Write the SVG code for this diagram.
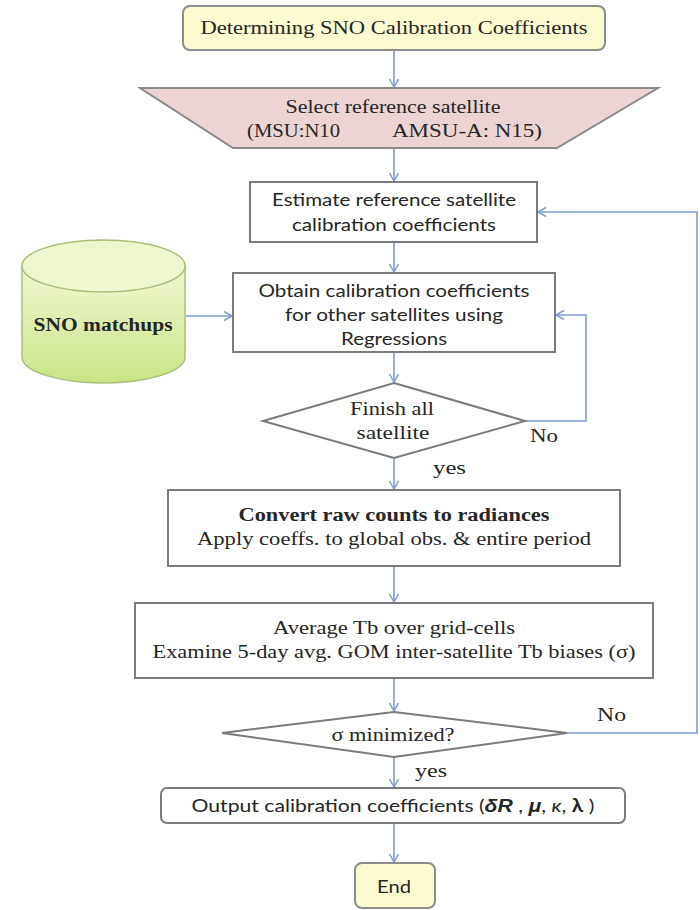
<svg xmlns="http://www.w3.org/2000/svg" width="700" height="910" viewBox="0 0 700 910">
<defs>
<marker id="arr" markerWidth="12" markerHeight="12" refX="9" refY="5" orient="auto" markerUnits="userSpaceOnUse">
<polyline points="1,0.5 9,5 1,9.5" fill="none" stroke="#7f9ccf" stroke-width="1.5"/>
</marker>
<linearGradient id="cyl" x1="0" y1="0" x2="0" y2="1">
<stop offset="0" stop-color="#f1f8d2"/>
<stop offset="1" stop-color="#c9e486"/>
</linearGradient>
<style>
.box{fill:#ffffff;stroke:#7b7b7b;stroke-width:2}
.yel{fill:#fbfbcf;stroke:#8c8c8c;stroke-width:2}
.conn{fill:none;stroke:#7f9ccf;stroke-width:1.6}
.ser{font-family:"Liberation Serif","Times New Roman",serif;font-size:18px;fill:#262626}
.san{font-family:Lato,"Liberation Sans",Arial,sans-serif;font-size:18px;fill:#262626}
.b{font-weight:bold}
</style>
</defs>
<rect width="700" height="910" fill="#ffffff"/>

<g id="connectors">
<line class="conn" x1="394" y1="50" x2="394" y2="87" marker-end="url(#arr)"/>
<line class="conn" x1="394" y1="148" x2="394" y2="181" marker-end="url(#arr)"/>
<line class="conn" x1="394" y1="242" x2="394" y2="272" marker-end="url(#arr)"/>
<line class="conn" x1="186" y1="316" x2="232" y2="316" marker-end="url(#arr)"/>
<line class="conn" x1="394" y1="352" x2="394" y2="382" marker-end="url(#arr)"/>
<polyline class="conn" points="525,421 586,421 586,315 556,315" marker-end="url(#arr)"/>
<line class="conn" x1="394" y1="458" x2="394" y2="489" marker-end="url(#arr)"/>
<line class="conn" x1="394" y1="566" x2="394" y2="602" marker-end="url(#arr)"/>
<line class="conn" x1="394" y1="678" x2="394" y2="711" marker-end="url(#arr)"/>
<polyline class="conn" points="567,733 697,733 697,212 538,212" marker-end="url(#arr)"/>
<line class="conn" x1="394" y1="757" x2="394" y2="787" marker-end="url(#arr)"/>
<line class="conn" x1="394" y1="823" x2="394" y2="862" marker-end="url(#arr)"/>
<text class="ser" x="530" y="442" textLength="28" lengthAdjust="spacingAndGlyphs">No</text>
<text class="ser" x="433" y="474" textLength="33" lengthAdjust="spacingAndGlyphs">yes</text>
<text class="ser" x="597" y="721" textLength="29" lengthAdjust="spacingAndGlyphs">No</text>
<text class="ser" x="415" y="777" textLength="32" lengthAdjust="spacingAndGlyphs">yes</text>
</g>

<g id="start">
<rect class="yel" x="183" y="6" width="422" height="44" rx="7"/>
<text class="ser" x="394" y="34" text-anchor="middle" textLength="387" lengthAdjust="spacingAndGlyphs">Determining SNO Calibration Coefficients</text>
</g>

<g id="select">
<polygon points="140,88 658,88 557,148 233,148" fill="#ebd4d3" stroke="#8a8a8a" stroke-width="2"/>
<text class="ser" x="393" y="113" text-anchor="middle" textLength="215" lengthAdjust="spacingAndGlyphs">Select reference satellite</text>
<text class="ser" x="247" y="137" textLength="93" lengthAdjust="spacingAndGlyphs">(MSU:N10</text>
<text class="ser" x="392" y="137" textLength="150" lengthAdjust="spacingAndGlyphs">AMSU-A: N15)</text>
</g>

<g id="estimate">
<rect class="box" x="250" y="182" width="287" height="60"/>
<text class="san" x="394" y="206" text-anchor="middle" textLength="244" lengthAdjust="spacingAndGlyphs">Estimate reference satellite</text>
<text class="san" x="394" y="231" text-anchor="middle" textLength="204" lengthAdjust="spacingAndGlyphs">calibration coefficients</text>
</g>

<g id="sno">
<path d="M22,266 L22,357 A81.5,26 0 0 0 185,357 L185,266" fill="url(#cyl)" stroke="#a9bf78" stroke-width="1.5"/>
<ellipse cx="103.5" cy="266" rx="81.5" ry="26" fill="#eef7cf" stroke="#a9bf78" stroke-width="1.5"/>
<text class="ser b" x="103" y="331" text-anchor="middle" textLength="139" lengthAdjust="spacingAndGlyphs">SNO matchups</text>
</g>

<g id="obtain">
<rect class="box" x="233" y="273" width="322" height="79"/>
<text class="san" x="394" y="297" text-anchor="middle" textLength="271" lengthAdjust="spacingAndGlyphs">Obtain calibration coefficients</text>
<text class="san" x="394" y="321" text-anchor="middle" textLength="218" lengthAdjust="spacingAndGlyphs">for other satellites using</text>
<text class="san" x="394" y="345" text-anchor="middle" textLength="106" lengthAdjust="spacingAndGlyphs">Regressions</text>
</g>

<g id="finish">
<polygon class="box" points="394,383 525,421 394,458 263,421"/>
<text class="ser" x="392" y="415" text-anchor="middle" textLength="84" lengthAdjust="spacingAndGlyphs">Finish all</text>
<text class="ser" x="393" y="439" text-anchor="middle" textLength="73" lengthAdjust="spacingAndGlyphs">satellite</text>
</g>

<g id="convert">
<rect class="box" x="168" y="490" width="452" height="76"/>
<text class="ser b" x="394" y="521" text-anchor="middle" textLength="311" lengthAdjust="spacingAndGlyphs">Convert raw counts to radiances</text>
<text class="ser" x="394" y="545" text-anchor="middle" textLength="394" lengthAdjust="spacingAndGlyphs">Apply coeffs. to global obs. &amp; entire period</text>
</g>

<g id="average">
<rect class="box" x="135" y="603" width="518" height="75"/>
<text class="ser" x="394" y="634" text-anchor="middle" textLength="242" lengthAdjust="spacingAndGlyphs">Average Tb over grid-cells</text>
<text class="ser" x="394" y="658" text-anchor="middle" textLength="483" lengthAdjust="spacingAndGlyphs">Examine 5-day avg. GOM inter-satellite Tb biases (σ)</text>
</g>

<g id="minimized">
<polygon class="box" points="394,712 567,733 394,757 222,733"/>
<text class="ser" x="393" y="741" text-anchor="middle" textLength="123" lengthAdjust="spacingAndGlyphs">σ minimized?</text>
</g>

<g id="output">
<rect class="box" x="161" y="788" width="464" height="35" rx="6"/>
<text class="san" x="393" y="812" text-anchor="middle" textLength="403" lengthAdjust="spacingAndGlyphs">Output calibration coefficients (<tspan font-family="'Liberation Sans',Arial,sans-serif" font-weight="bold" font-style="italic">δR</tspan> , <tspan font-family="'Liberation Sans',Arial,sans-serif" font-weight="bold" font-style="italic">μ</tspan>, <tspan font-style="italic">κ</tspan>, <tspan font-weight="bold">λ</tspan> )</text>
</g>

<g id="end">
<rect class="yel" x="355" y="863" width="80" height="45" rx="7"/>
<text class="san" x="394" y="893" text-anchor="middle" textLength="34" lengthAdjust="spacingAndGlyphs">End</text>
</g>
</svg>
